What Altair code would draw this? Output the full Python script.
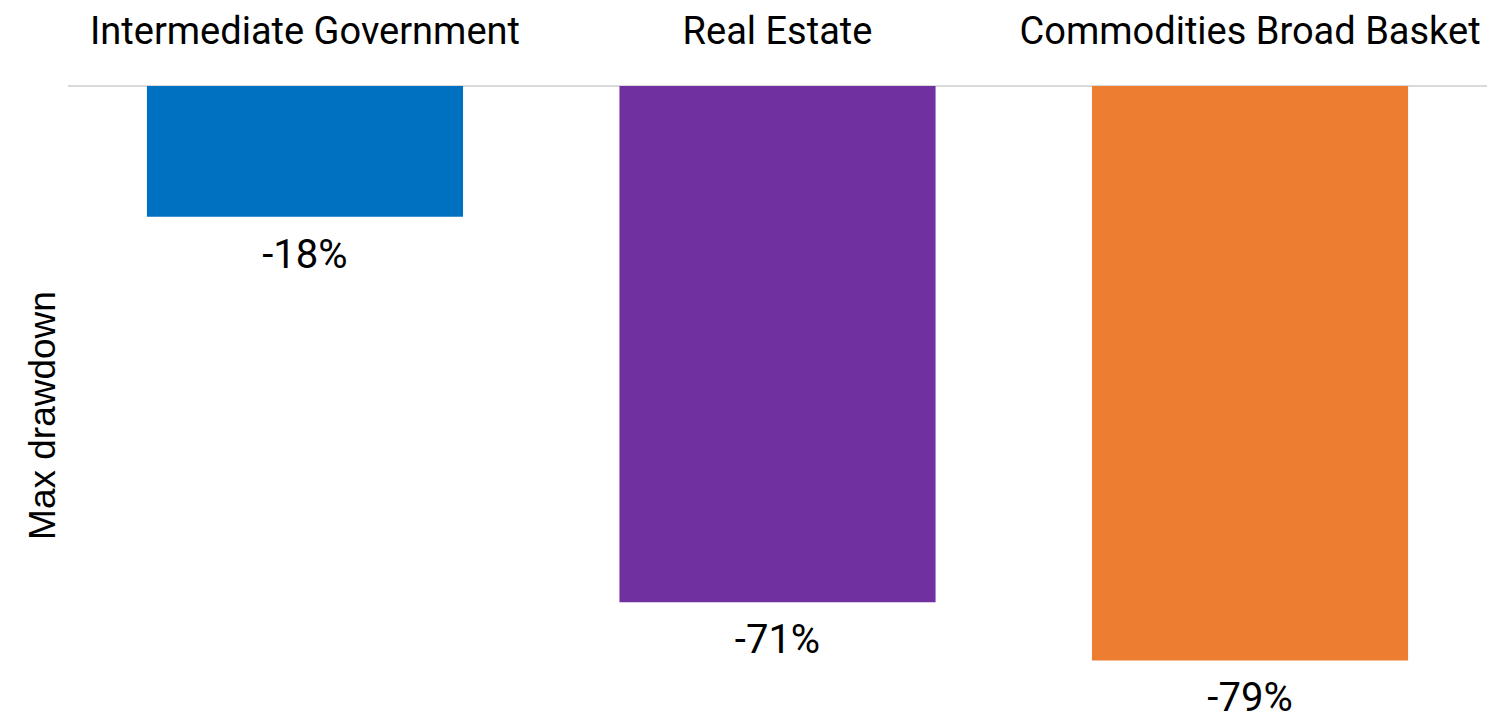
import altair as alt
import pandas as pd

categories = ["Intermediate Government", "Real Estate", "Commodities Broad Basket"]
drawdowns = [-0.18, -0.71, -0.79]
labels = ["-18%", "-71%", "-79%"]
colors = ["#0070C0", "#7030A0", "#ED7D31"]

df = pd.DataFrame({"category": categories, "value": drawdowns, "label": labels})

FONT = "Roboto"

x = alt.X(
    "category:N",
    sort=categories,
    scale=alt.Scale(paddingInner=0.331, paddingOuter=0.167),
    axis=alt.Axis(
        orient="top", title=None, ticks=False, domain=False,
        labelFontSize=38, labelFont=FONT, labelColor="#000000",
        labelBaseline="alphabetic", labelPadding=43, labelAngle=0,
        labelLimit=0, labelOverlap=False,
    ),
)
y = alt.Y(
    "value:Q",
    scale=alt.Scale(domain=[-0.85, 0], nice=False, zero=True),
    axis=alt.Axis(
        labels=False, ticks=False, domain=False, grid=False,
        title="Max drawdown", titleFontSize=37, titleFont="Liberation Sans",
        titleFontWeight="normal", titleColor="#000000",
        titleAngle=270, titleAlign="center", titleBaseline="alphabetic",
        titleX=-14, titleY=329,
    ),
)

bars = alt.Chart(df).mark_bar().encode(
    x=x,
    y=y,
    y2=alt.datum(0),
    color=alt.Color("category:N", sort=categories,
                    scale=alt.Scale(domain=categories, range=colors), legend=None),
)

text = alt.Chart(df).mark_text(
    baseline="top", dy=19, fontSize=40, font=FONT, color="#000000"
).encode(
    x=alt.X("category:N", sort=categories),
    y=alt.Y("value:Q"),
    text="label:N",
)

zero = alt.Chart(df).mark_rule(color="#d9d9d9", strokeWidth=2).encode(
    y=alt.datum(0),
)

chart = (zero + bars + text).properties(
    width=1419, height=618,
    autosize=alt.AutoSizeParams(type="none"),
    padding={"left": 68, "top": 86, "right": 17, "bottom": 11},
).configure_view(stroke=None)

chart.save("out.html", embed_options={"renderer": "svg", "actions": False})
